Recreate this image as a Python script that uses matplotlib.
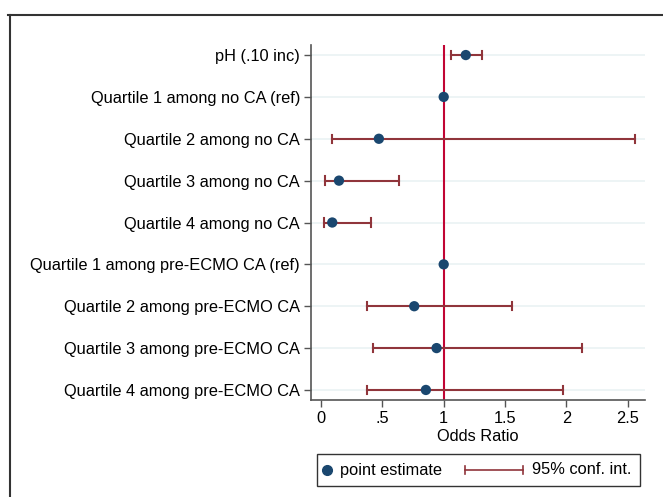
import matplotlib
matplotlib.use("Agg")
import matplotlib.pyplot as plt
from matplotlib.lines import Line2D
from matplotlib.patches import Rectangle
import numpy as np

plt.rcParams['font.family'] = ['Liberation Sans', 'DejaVu Sans']

labels = ["pH (.10 inc)", "Quartile 1 among no CA (ref)", "Quartile 2 among no CA",
          "Quartile 3 among no CA", "Quartile 4 among no CA",
          "Quartile 1 among pre-ECMO CA (ref)", "Quartile 2 among pre-ECMO CA",
          "Quartile 3 among pre-ECMO CA", "Quartile 4 among pre-ECMO CA"]
odds = [1.18, 1.0, 0.472, 0.147, 0.092, 1.0, 0.76, 0.942, 0.855]
ci_low = [1.056, np.nan, 0.092, 0.033, 0.024, np.nan, 0.375, 0.421, 0.377]
ci_high = [1.315, np.nan, 2.56, 0.635, 0.405, np.nan, 1.553, 2.123, 1.973]
xticks = [0, 0.5, 1, 1.5, 2, 2.5]
xticklabels = ["0", ".5", "1", "1.5", "2", "2.5"]
legend_labels = ["point estimate", "95% conf. int."]

pt_color = "#1a476f"
ci_color = "#90353b"
ref_color = "#c10534"
FS = 11.8

W, H = 663, 497
fig = plt.figure(figsize=(W/100, H/100), dpi=100)
ax = fig.add_axes([311/W, 1-400/H, (645-311)/W, (400-45)/H])

y = np.arange(len(labels))
for yy in y:
    ax.axhline(yy, color="#eaf2f3", lw=1.2, zorder=0)
ax.axvline(1, color=ref_color, lw=1.5, zorder=1)

lo = np.array(ci_low); hi = np.array(ci_high)
cap = 0.1
for yy, l, h in zip(y, lo, hi):
    if np.isnan(l):
        continue
    ax.plot([l, h], [yy, yy], color=ci_color, lw=1.5, zorder=2)
    ax.plot([l, l], [yy-cap, yy+cap], color=ci_color, lw=1.5, zorder=2)
    ax.plot([h, h], [yy-cap, yy+cap], color=ci_color, lw=1.5, zorder=2)
ax.scatter(odds, y, s=55, color=pt_color, zorder=3, edgecolors="none")

ax.set_ylim(8.24, -0.24)
ax.set_xlim(-0.081, 2.64)
ax.set_yticks(y)
ax.set_yticklabels(labels, fontsize=FS)
ax.set_xticks(xticks)
ax.set_xticklabels(xticklabels, fontsize=FS)
ax.set_xlabel("Odds Ratio", fontsize=FS, labelpad=2)
ax.tick_params(axis='both', length=5, color="#555555", width=1, pad=3)
for s in ["top", "right"]:
    ax.spines[s].set_visible(False)
for s in ["left", "bottom"]:
    ax.spines[s].set_color("#555555")
    ax.spines[s].set_linewidth(1.2)

# legend (drawn manually in figure pixel coordinates)
def fx(px): return px / W
def fy(py): return 1 - py / H
fig.add_artist(Rectangle((fx(317), fy(486)), fx(640) - fx(317), fy(454) - fy(486),
                         fill=False, edgecolor="#333333", lw=1.0, transform=fig.transFigure))
fig.add_artist(Line2D([fx(327)], [fy(470)], marker='o', markersize=7, color=pt_color,
                      ls='none', transform=fig.transFigure))
fig.text(fx(340), fy(470), legend_labels[0], fontsize=FS, va='center', ha='left')
fig.add_artist(Line2D([fx(465), fx(523)], [fy(470), fy(470)], color=ci_color, lw=1.2,
                      transform=fig.transFigure))
for px in (465, 523):
    fig.add_artist(Line2D([fx(px), fx(px)], [fy(466), fy(474)], color=ci_color, lw=1.2,
                          transform=fig.transFigure))
fig.text(fx(532), fy(470), legend_labels[1], fontsize=FS, va='center', ha='left')

# outer frame
fig.add_artist(Line2D([8/W, 1], [1-15/H, 1-15/H], color="#333333", lw=1.5))
fig.add_artist(Line2D([10/W, 10/W], [0, 1-15/H], color="#333333", lw=1.5))

fig.savefig("out.png", dpi=100)
